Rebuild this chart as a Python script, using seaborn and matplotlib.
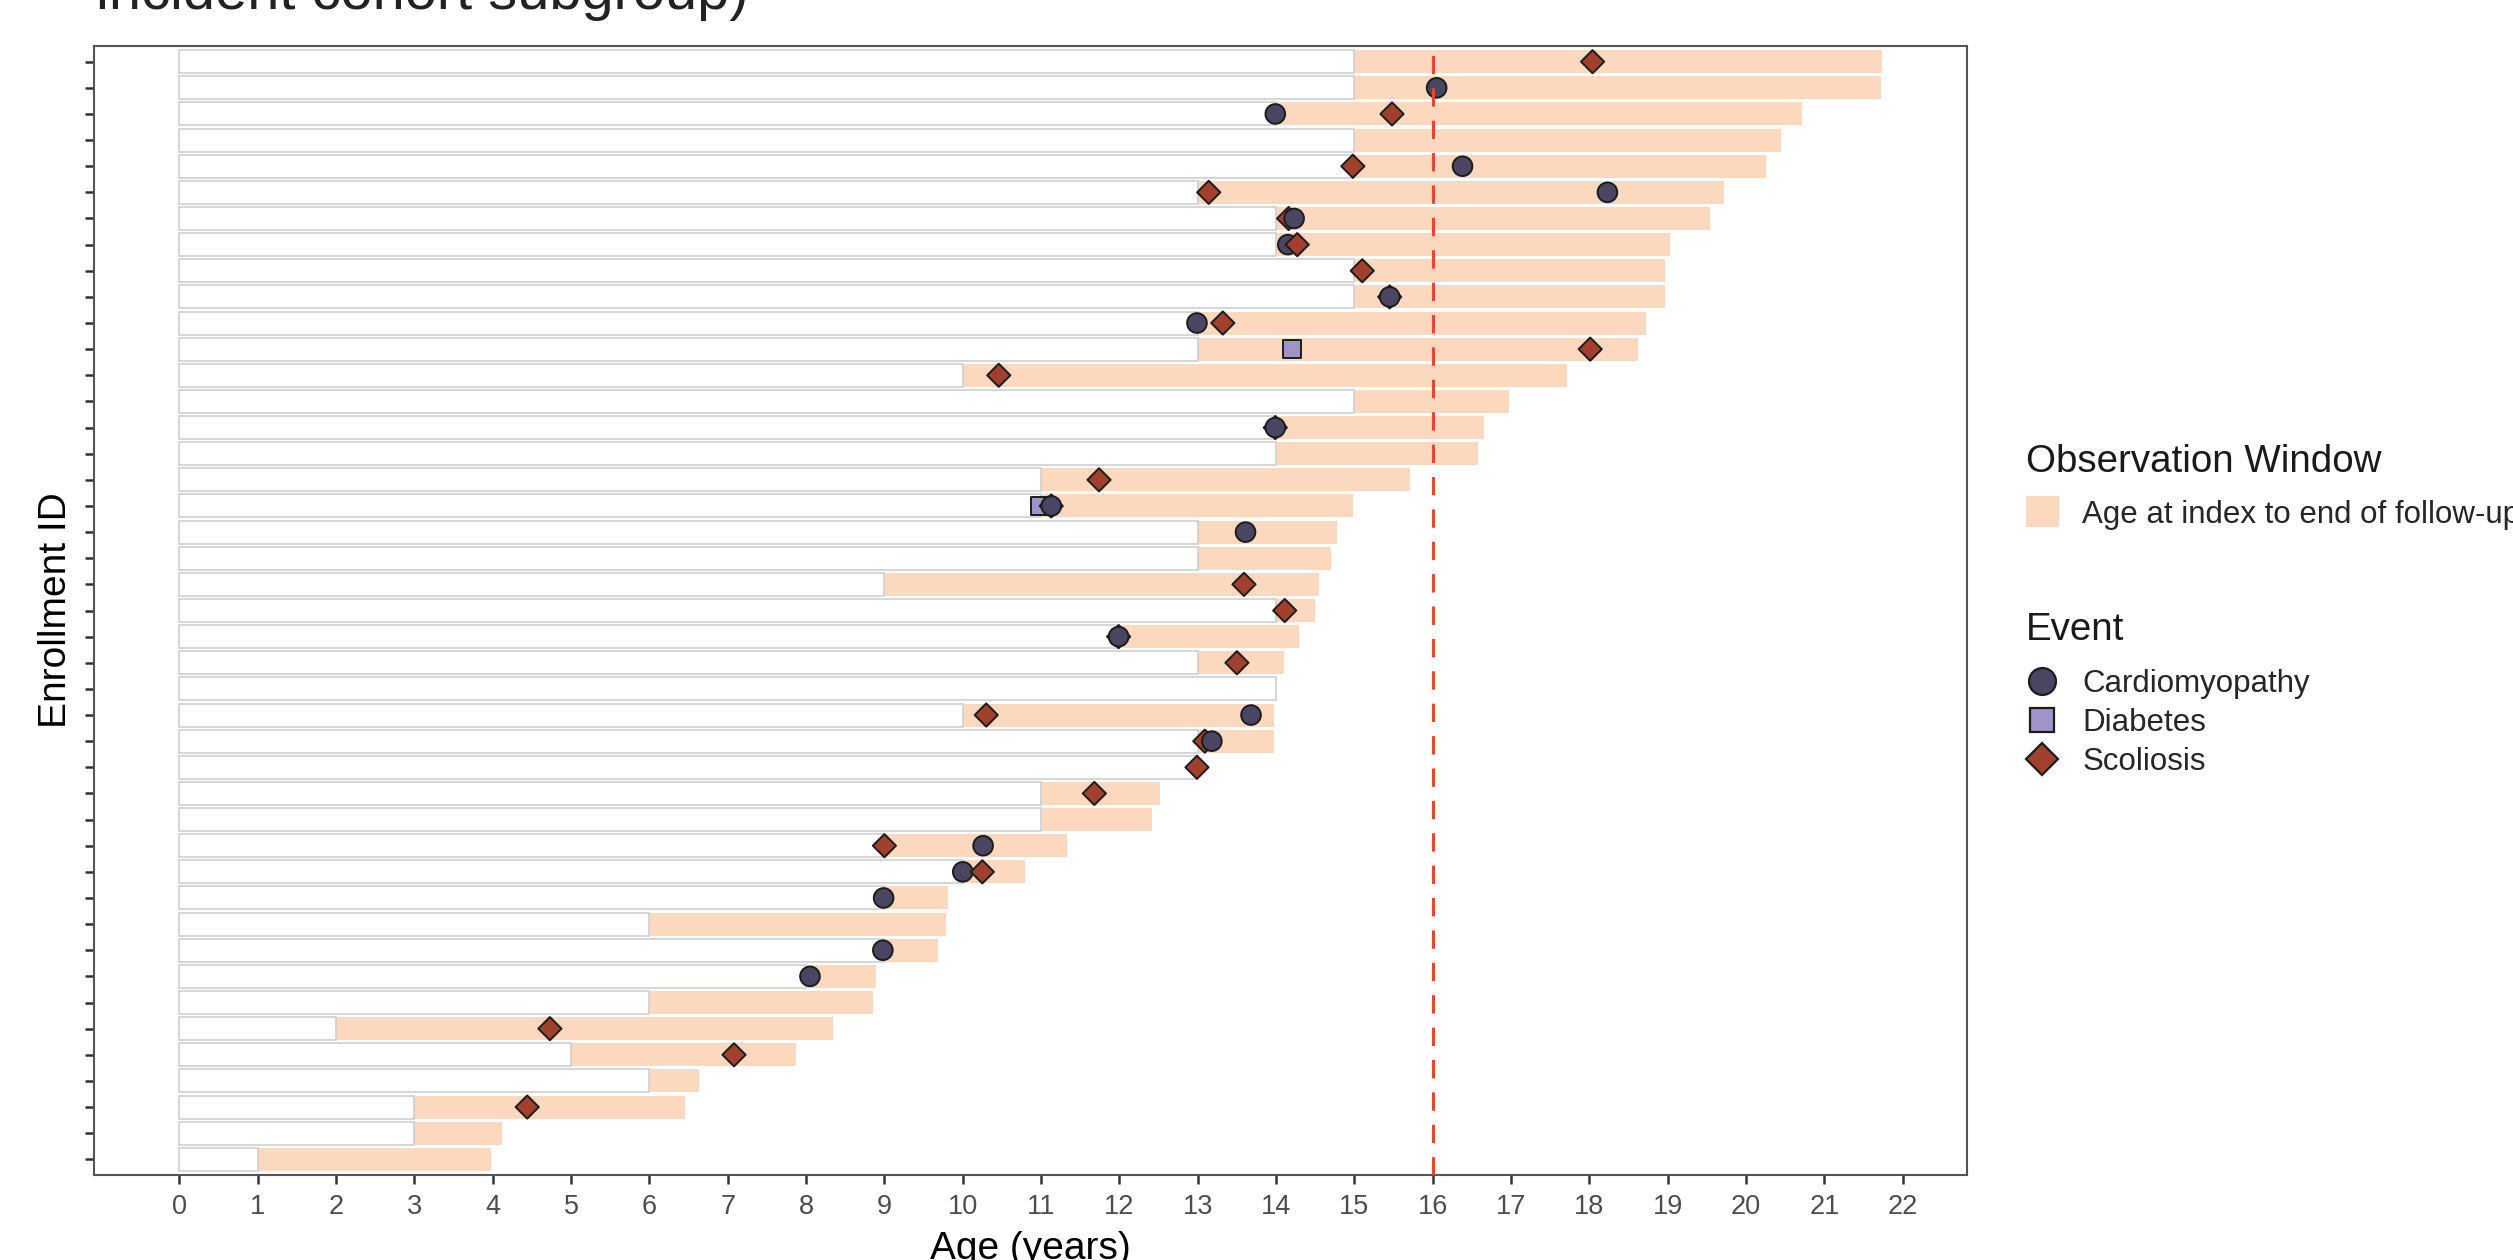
import matplotlib
matplotlib.use("Agg")
import numpy as np
import pandas as pd
import matplotlib.pyplot as plt
from matplotlib.patches import Patch
from matplotlib.lines import Line2D
import seaborn as sns

# one row per participant, top of the chart first
index_age = [15, 15, 14, 15, 15, 13, 14, 14, 15, 15, 13, 13, 10, 15, 14,
             14, 11, 11, 13, 13, 9, 14, 12, 13, 14, 10, 13, 13, 11, 11,
             9, 10, 9, 6, 9, 8, 6, 2, 5, 6, 3, 3, 1]
end_age = [21.73, 21.72, 20.71, 20.45, 20.26, 19.72, 19.54, 19.03, 18.97, 18.97,
           18.72, 18.62, 17.71, 16.97, 16.66, 16.58, 15.71, 14.98, 14.78, 14.70,
           14.55, 14.50, 14.29, 14.10, 14.00, 13.97, 13.97, 13.00, 12.52, 12.41,
           11.33, 10.80, 9.81, 9.78, 9.69, 8.89, 8.86, 8.35, 7.87, 6.63,
           6.46, 4.12, 3.98]

# events (row position, age, type), in drawing order
event_row = [0, 1, 2, 2, 4, 4, 5, 5, 6, 6, 7, 7, 8, 9, 9, 10, 10, 11, 11, 12,
             14, 14, 16, 17, 17, 17, 18, 20, 21, 22, 22, 23, 25, 25, 26, 26, 27, 28,
             30, 30, 31, 31, 32, 34, 35, 37, 38, 40]
event_age = [18.04, 16.05, 13.99, 15.48, 14.98, 16.38, 13.14, 18.23, 14.16, 14.23,
             14.15, 14.27, 15.10, 15.45, 15.45, 12.99, 13.32, 14.20, 18.01, 10.46,
             13.99, 13.99, 11.74, 10.98, 11.13, 11.13, 13.61, 13.59, 14.11, 11.99,
             11.99, 13.50, 10.30, 13.68, 13.09, 13.18, 12.99, 11.68, 9.00, 10.26,
             10.00, 10.25, 8.99, 8.98, 8.05, 4.73, 7.08, 4.44]
S, C, D = "Scoliosis", "Cardiomyopathy", "Diabetes"
event_type = [S, C, C, S, S, C, S, C, S, C,
              C, S, S, S, C, C, S, D, S, S,
              S, C, S, D, S, C, C, S, S, S,
              C, S, S, C, S, C, S, S, S, C,
              C, S, C, C, C, S, S, S]

event_names = ["Cardiomyopathy", "Diabetes", "Scoliosis"]
x_ticks = list(range(0, 23))
cutoff_age = 16

peach = "#FCD9BE"
event_colors = {"Cardiomyopathy": "#4A4661", "Diabetes": "#A093C8", "Scoliosis": "#A1412D"}
event_markers = {"Cardiomyopathy": "o", "Diabetes": "s", "Scoliosis": "D"}
event_sizes = {"Cardiomyopathy": 200, "Diabetes": 160, "Scoliosis": 140}

sns.set_style("ticks")
plt.rcParams["font.family"] = ["Liberation Sans", "DejaVu Sans"]

rows = list(range(len(index_age)))
bars = pd.DataFrame({"row": rows, "index_age": index_age, "end_age": end_age})
events = pd.DataFrame({"row": event_row, "age": event_age, "event": event_type})

W, H = 2513, 1260
fig = plt.figure(figsize=(W / 100, H / 100), dpi=100)
ax = fig.add_axes([94 / W, 1 - 1175 / H, (1967 - 94) / W, (1175 - 46) / H])

# follow-up window, then the pre-index part drawn white over it
sns.barplot(data=bars, x="end_age", y="row", orient="h", native_scale=True,
            color=peach, saturation=1, width=0.88, errorbar=None,
            linewidth=0, edgecolor="none", ax=ax)
sns.barplot(data=bars, x="index_age", y="row", orient="h", native_scale=True,
            color="white", saturation=1, width=0.88, errorbar=None,
            linewidth=1.2, edgecolor="#cfcfcf", ax=ax)

sns.scatterplot(data=events, x="age", y="row", hue="event", style="event", size="event",
                palette=event_colors, markers=event_markers, sizes=event_sizes,
                hue_order=event_names, style_order=event_names, size_order=event_names,
                edgecolor="#1c1c1c", linewidth=1.4, legend=False, zorder=3, ax=ax)

ax.axvline(cutoff_age, color="#E8472E", lw=2.2, ls=(0, (6, 4.6)), zorder=4)

ax.set_xlim(-1.09, 22.82)
ax.set_ylim(len(rows) - 1 + 0.6, -0.6)
ax.set_xticks(x_ticks)
ax.set_xticklabels([str(t) for t in x_ticks])
ax.set_yticks(rows)
ax.set_yticklabels([])
ax.tick_params(axis="both", length=6.5, width=1.8, color="#333333",
               labelsize=19.5, labelcolor="#4d4d4d", pad=7)
for sp in ax.spines.values():
    sp.set_visible(True)
    sp.set_color("#555555")
    sp.set_linewidth(1.5)

ax.set_xlabel("Age (years)", fontsize=28, color="black", labelpad=8)
ax.set_ylabel("Enrollment ID", fontsize=28, color="black", labelpad=1)

fig.text(96 / W, 1 - 9 / H, "incident cohort subgroup)", fontsize=41.7,
         ha="left", va="baseline", color="#222222")

# legend titles as plain texts, entries as title-less legends
fig.text(2026 / W, 1 - 472 / H, "Observation Window", fontsize=27.7,
         ha="left", va="baseline", color="#1a1a1a")
fig.text(2026 / W, 1 - 640 / H, "Event", fontsize=27.7,
         ha="left", va="baseline", color="#1a1a1a")

leg1 = ax.legend(handles=[Patch(facecolor=peach, edgecolor="none")],
                 labels=["Age at index to end of follow-up"],
                 loc="center left", bbox_to_anchor=(2026 / W, 1 - 513 / H),
                 bbox_transform=fig.transFigure, frameon=False, fontsize=22.5,
                 handlelength=1.05, handleheight=1.15, handletextpad=0.75,
                 borderpad=0, borderaxespad=0)
ax.add_artist(leg1)

event_handles = [
    Line2D([], [], ls="", marker="o", markersize=19.4, mfc=event_colors[C], mec="#1c1c1c", mew=1.6),
    Line2D([], [], ls="", marker="s", markersize=17.3, mfc=event_colors[D], mec="#1c1c1c", mew=1.6),
    Line2D([], [], ls="", marker="D", markersize=16.3, mfc=event_colors[S], mec="#1c1c1c", mew=1.6),
]
ax.legend(handles=event_handles, labels=event_names, loc="center left",
          bbox_to_anchor=(2026 / W, 1 - 723 / H), bbox_transform=fig.transFigure,
          frameon=False, fontsize=22.5, handlelength=1.05, handletextpad=0.75,
          labelspacing=0.30, borderpad=0, borderaxespad=0)

fig.savefig("out.png", dpi=100)
